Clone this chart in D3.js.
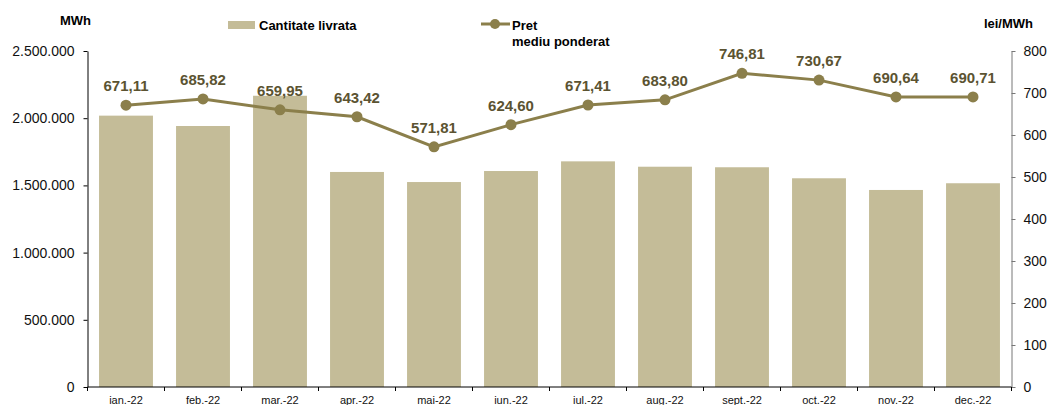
<!DOCTYPE html>
<html>
<head>
<meta charset="utf-8">
<script src="https://cdn.jsdelivr.net/npm/d3@7"></script>
<style>
  body { margin: 0; background: #fff; }
  svg { font-family: "Liberation Sans", Arial, sans-serif; }
</style>
</head>
<body>
<svg id="chart" width="1049" height="405"></svg>
<script>
var months = ["ian.-22", "feb.-22", "mar.-22", "apr.-22", "mai-22", "iun.-22", "iul.-22", "aug.-22", "sept.-22", "oct.-22", "nov.-22", "dec.-22"]
var quantity = [2019000, 1942000, 2167000, 1600000, 1525000, 1607000, 1679000, 1639000, 1635000, 1553000, 1466000, 1516000]
var price = [671.11, 685.82, 659.95, 643.42, 571.81, 624.60, 671.41, 683.80, 746.81, 730.67, 690.64, 690.71]
var leftTicks = [0, 500000, 1000000, 1500000, 2000000, 2500000]
var rightTicks = [0, 100, 200, 300, 400, 500, 600, 700, 800]

var barColor = "#c4bc98"
var lineColor = "#8b7f4b"
var labelColor = "#5b5331"

var dims = { left: 87.5, right: 1011.5, top: 51, bottom: 387 }

var ro = d3.formatLocale({ decimal: ",", thousands: ".", grouping: [3], currency: ["", ""] })
var fmtInt = ro.format(",.0f")
var fmtDec = ro.format(",.2f")

var svg = d3.select("#chart")

var x = d3.scaleBand()
  .domain(months)
  .range([dims.left, dims.right])
  .paddingInner(0.3)
  .paddingOuter(0.15)

var yL = d3.scaleLinear().domain([0, 2500000]).range([dims.bottom, dims.top])
var yR = d3.scaleLinear().domain([0, 800]).range([dims.bottom, dims.top])

// bars
svg.selectAll("rect.bar")
  .data(quantity)
  .enter()
  .append("rect")
    .attr("class", "bar")
    .attr("x", (d, i) => x(months[i]))
    .attr("y", d => yL(d))
    .attr("width", x.bandwidth())
    .attr("height", d => dims.bottom - yL(d))
    .attr("fill", barColor)

// left axis
var gL = svg.append("g")
  .attr("transform", `translate(${dims.left},0)`)
  .call(d3.axisLeft(yL).tickValues(leftTicks).tickFormat(fmtInt).tickSize(4).tickSizeOuter(0))
gL.selectAll("text").attr("font-size", 14).attr("fill", "#111").attr("x", -13)
gL.selectAll("line, path").attr("stroke", "#000")

// right axis
var gR = svg.append("g")
  .attr("transform", `translate(${dims.right},0)`)
  .call(d3.axisRight(yR).tickValues(rightTicks).tickSize(4).tickSizeOuter(0))
gR.selectAll("text").attr("font-size", 14).attr("fill", "#111").attr("x", 12)
gR.selectAll("line, path").attr("stroke", "#777")

// bottom axis, ticks between categories
var gB = svg.append("g")
  .attr("transform", `translate(0,${dims.bottom})`)
gB.append("line")
  .attr("x1", dims.left).attr("x2", dims.right)
  .attr("stroke", "#000")
gB.selectAll("line.tick")
  .data(d3.range(months.length + 1))
  .enter()
  .append("line")
    .attr("x1", i => dims.left + i * x.step())
    .attr("x2", i => dims.left + i * x.step())
    .attr("y1", 0).attr("y2", 4)
    .attr("stroke", "#000")
gB.selectAll("text")
  .data(months)
  .enter()
  .append("text")
    .attr("x", d => x(d) + x.bandwidth() / 2)
    .attr("y", 17)
    .attr("text-anchor", "middle")
    .attr("font-size", 11)
    .attr("fill", "#111")
    .text(d => d)

// price line
var line = d3.line()
  .x((d, i) => x(months[i]) + x.bandwidth() / 2)
  .y(d => yR(d))

svg.append("path")
  .datum(price)
  .attr("d", line)
  .attr("fill", "none")
  .attr("stroke", lineColor)
  .attr("stroke-width", 3)

svg.selectAll("circle.pt")
  .data(price)
  .enter()
  .append("circle")
    .attr("cx", (d, i) => x(months[i]) + x.bandwidth() / 2)
    .attr("cy", d => yR(d))
    .attr("r", 5.5)
    .attr("fill", lineColor)

svg.selectAll("text.val")
  .data(price)
  .enter()
  .append("text")
    .attr("x", (d, i) => x(months[i]) + x.bandwidth() / 2)
    .attr("y", d => yR(d) - 14)
    .attr("text-anchor", "middle")
    .attr("font-size", 15)
    .attr("font-weight", "bold")
    .attr("fill", labelColor)
    .text(d => fmtDec(d))

// axis titles
svg.append("text")
  .attr("x", 60).attr("y", 25)
  .attr("font-size", 13).attr("font-weight", "bold")
  .text("MWh")
svg.append("text")
  .attr("x", 1033).attr("y", 28)
  .attr("text-anchor", "end")
  .attr("font-size", 13).attr("font-weight", "bold")
  .text("lei/MWh")

// legend
svg.append("rect")
  .attr("x", 228).attr("y", 21).attr("width", 27).attr("height", 8)
  .attr("fill", barColor)
svg.append("text")
  .attr("x", 259).attr("y", 30)
  .attr("font-size", 13).attr("font-weight", "bold")
  .text("Cantitate livrata")

svg.append("line")
  .attr("x1", 481).attr("x2", 510).attr("y1", 24).attr("y2", 24)
  .attr("stroke", lineColor).attr("stroke-width", 3)
svg.append("circle")
  .attr("cx", 495).attr("cy", 24).attr("r", 5)
  .attr("fill", lineColor)
var lg = svg.append("text")
  .attr("x", 512).attr("y", 30)
  .attr("font-size", 13).attr("font-weight", "bold")
lg.append("tspan").text("Pret")
lg.append("tspan").attr("x", 512).attr("dy", 16).text("mediu ponderat")
</script>
</body>
</html>
